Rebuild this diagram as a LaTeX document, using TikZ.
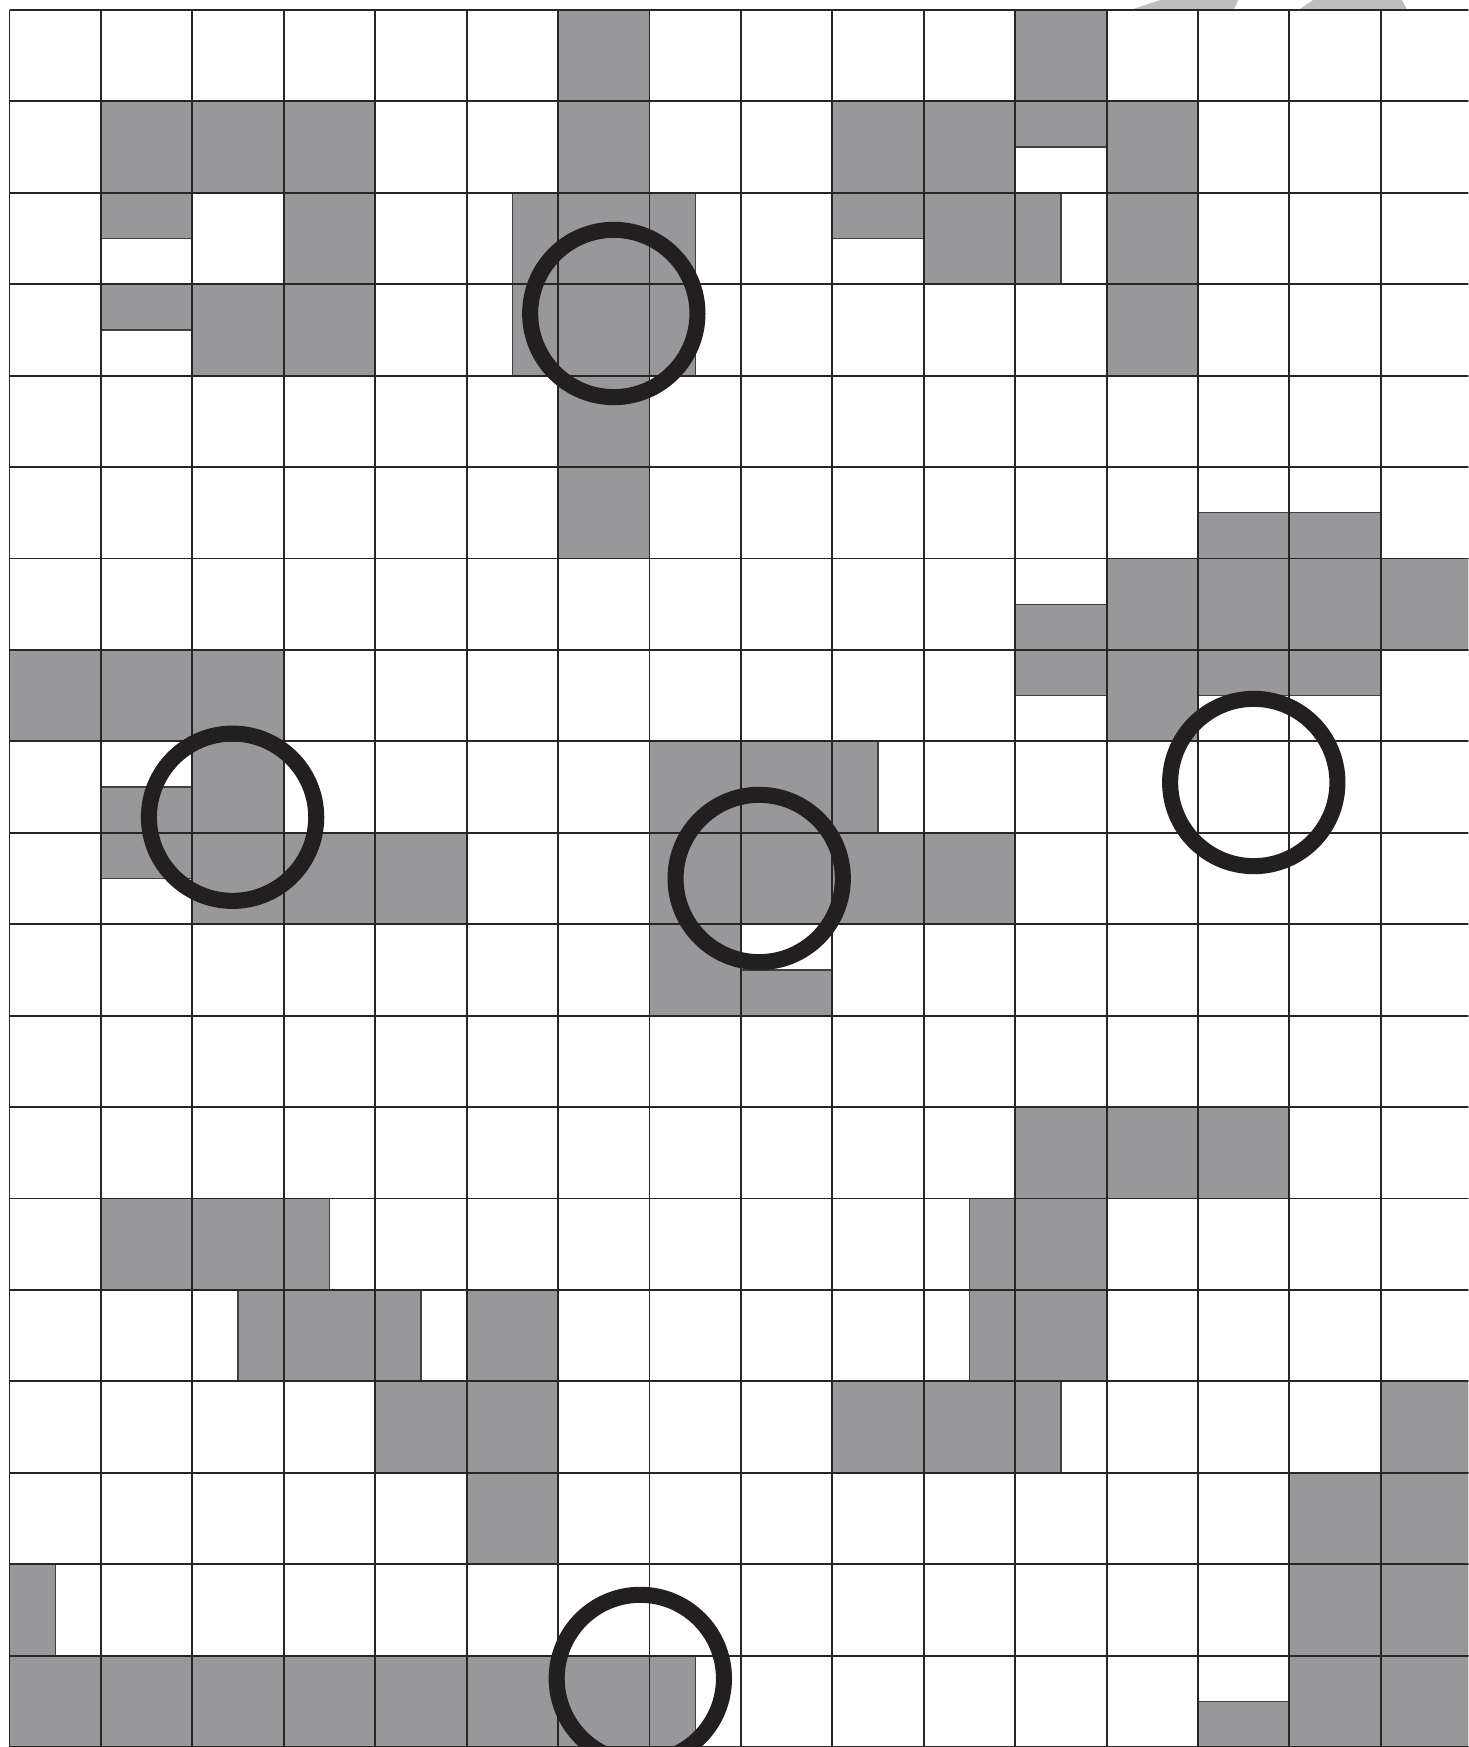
\documentclass[tikz,border=0pt]{standalone}
\usepackage{tikz}
\definecolor{cellgray}{RGB}{152,152,154}
\definecolor{ringblack}{RGB}{35,31,32}
\definecolor{fadegray}{RGB}{190,190,192}
\begin{document}
\begin{tikzpicture}[cell/.style={fill=cellgray, draw=black!75, line width=0.4pt},
            ring/.style={draw=ringblack, line width=5pt}]
            \useasboundingbox (-0.104,0.109) rectangle (15.957,-19);
            \clip (-0.104,0.109) rectangle (15.957,-19);
            \fill[fadegray] (12.26,0) -- (12.59,0.109) -- (13.44,0.109) -- (13.39,0) -- cycle;
            \fill[fadegray] (14.10,0) -- (14.26,0.109) -- (15.23,0.109) -- (15.29,0) -- cycle;
            \foreach \c/\r in {6/0, 11/0, 1/1, 2/1, 3/1, 6/1, 9/1, 10/1, 12/1, 3/2, 10/2, 12/2,
                2/3, 3/3, 12/3, 6/4, 6/5, 12/6, 13/6, 14/6, 15/6, 0/7, 1/7, 2/7, 12/7,
                2/8, 7/8, 8/8, 2/9, 3/9, 4/9, 7/9, 8/9, 9/9, 10/9, 7/10, 11/12, 12/12, 13/12,
                1/13, 2/13, 11/13, 3/14, 5/14, 11/14, 4/15, 5/15, 9/15, 10/15, 15/15,
                5/16, 14/16, 15/16, 14/17, 15/17, 0/18, 1/18, 2/18, 3/18, 4/18, 5/18, 6/18,
                14/18, 15/18}
                \draw[cell] (\c,-\r) rectangle ++(1,-1);
            \draw[cell] (5.5,-2) rectangle (7.5,-4);
            \draw[cell] (11,-1) rectangle (12,-1.5);
            \draw[cell] (1,-2) rectangle (2,-2.5);
            \draw[cell] (9,-2) rectangle (10,-2.5);
            \draw[cell] (11,-2) rectangle (11.5,-3);
            \draw[cell] (1,-3) rectangle (2,-3.5);
            \draw[cell] (13,-5.5) rectangle (15,-6);
            \draw[cell] (11,-6.5) rectangle (12,-7.5);
            \draw[cell] (13,-7) rectangle (15,-7.5);
            \draw[cell] (1,-8.5) rectangle (2,-9.5);
            \draw[cell] (9,-8) rectangle (9.5,-9);
            \draw[cell] (8,-10.5) rectangle (9,-11);
            \draw[cell] (3,-13) rectangle (3.5,-14);
            \draw[cell] (10.5,-13) rectangle (11,-15);
            \draw[cell] (2.5,-14) rectangle (3,-15);
            \draw[cell] (4,-14) rectangle (4.5,-15);
            \draw[cell] (11,-15) rectangle (11.5,-16);
            \draw[cell] (0,-17) rectangle (0.5,-18);
            \draw[cell] (7,-18) rectangle (7.5,-19);
            \draw[cell] (13,-18.5) rectangle (14,-19);
            \draw[black!85, line width=0.6pt] (0,-19) grid (16,0);
            \draw[ring] (6.61,-3.32) circle (0.915);
            \draw[ring] (2.44,-8.83) circle (0.915);
            \draw[ring] (8.20,-9.50) circle (0.915);
            \draw[ring] (13.61,-8.45) circle (0.915);
            \draw[ring] (6.90,-18.25) circle (0.915);
        \end{tikzpicture}
\end{document}
